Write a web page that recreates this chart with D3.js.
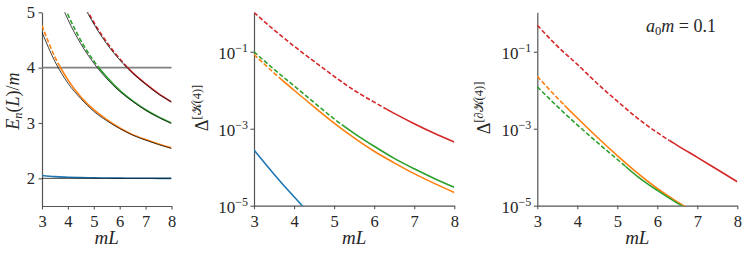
<!DOCTYPE html>
<html>
<head>
<meta charset="utf-8">
<style>
  body { margin: 0; background: #fff; }
  svg text { font-family: "Liberation Serif", "DejaVu Serif", serif; fill: #262626; }
  .it { font-style: italic; }
</style>
</head>
<body>
<div id="chart"></div>
<script src="https://cdnjs.cloudflare.com/ajax/libs/d3/7.8.5/d3.min.js"></script>
<script>

// sample points along mL
var mL = [3, 3.5, 4, 4.5, 5, 5.5, 6, 6.5, 7, 7.5, 8];
var xTicks = [3, 4, 5, 6, 7, 8];
var energyTicks = [2, 3, 4, 5];
var logTicks = [1e-1, 1e-3, 1e-5];
var threshold = 4;
var colors = ['#1f77b4', '#ff7f0e', '#2ca02c', '#d62728'];
// mL where each level falls under 4m (dashed before that)
var crossL = [3, 3.68, 5.2, 6.3];

// left panel: black thin lines
var free0 = [2.0, 2.0, 2.0, 2.0, 2.0, 2.0, 2.0, 2.0, 2.0, 2.0, 2.0];
var free1 = [4.64, 4.11, 3.72, 3.44, 3.21, 3.04, 2.90, 2.78, 2.69, 2.61, 2.54];
var free2 = [6.25, 5.46, 4.87, 4.43, 4.08, 3.80, 3.57, 3.39, 3.23, 3.10, 2.99];
var free3 = [7.53, 6.53, 5.80, 5.23, 4.79, 4.43, 4.14, 3.90, 3.70, 3.52, 3.38];
// left panel: coloured levels
var energyBlue   = [2.05, 2.03, 2.02, 2.012, 2.008, 2.005, 2.003, 2.002, 2.001, 2.0, 2.0];
var energyOrange = [4.76, 4.19, 3.78, 3.47, 3.24, 3.06, 2.91, 2.79, 2.70, 2.62, 2.55];
var energyGreen  = [6.35, 5.56, 4.96, 4.49, 4.12, 3.83, 3.59, 3.40, 3.24, 3.11, 3.00];
var energyRed    = [7.6, 6.6, 5.85, 5.27, 4.82, 4.46, 4.16, 3.91, 3.71, 3.53, 3.38];

// middle panel
var kBlue   = [2.8e-4, 6.6e-5, 1.7e-5, 4.7e-6, null, null, null, null, null, null, null];
var kOrange = [8.5e-2, 2.8e-2, 1.0e-2, 3.7e-3, 1.4e-3, 5.8e-4, 2.6e-4, 1.3e-4, 6.8e-5, 3.8e-5, 2.2e-5];
var kGreen  = [1.0e-1, 3.5e-2, 1.3e-2, 4.8e-3, 1.8e-3, 7.6e-4, 3.5e-4, 1.7e-4, 9.1e-5, 5.1e-5, 3.0e-5];
var kRed    = [1.05, 0.37, 0.14, 5.6e-2, 2.3e-2, 1.0e-2, 4.9e-3, 2.5e-3, 1.35e-3, 7.6e-4, 4.5e-4];

// right panel
var dkOrange = [2.3e-2, 6.3e-3, 1.9e-3, 6.0e-4, 2.0e-4, 7.1e-5, 2.8e-5, 1.26e-5, 6.3e-6, null, null];
var dkGreen  = [1.23e-2, 3.8e-3, 1.26e-3, 4.4e-4, 1.6e-4, 5.8e-5, 2.5e-5, 1.17e-5, 6.0e-6, null, null];
var dkRed    = [0.49, 0.14, 4.7e-2, 1.5e-2, 5.2e-3, 1.9e-3, 7.9e-4, 3.7e-4, 1.8e-4, 8.7e-5, 4.2e-5];

var svg = d3.select('#chart').append('svg')
  .attr('width', 748)
  .attr('height', 255);
var defs = svg.append('defs');

var axisColor = '#555';

function makePanel(id, left, top, w, h, y) {
  var g = svg.append('g').attr('transform', 'translate(' + left + ',' + top + ')');
  var x = d3.scaleLinear().domain([3, 8]).range([0, w]);

  var xa = g.append('g')
    .attr('transform', 'translate(0,' + h + ')')
    .call(d3.axisBottom(x).tickValues(xTicks).tickSize(3.5).tickSizeOuter(0).tickFormat(d3.format('d')));
  xa.attr('font-size', null).attr('font-family', null);
  xa.selectAll('text').attr('y', 21).attr('dy', 0).style('font-size', '16.5px');

  g.append('text')
    .attr('class', 'it')
    .attr('x', w / 2)
    .attr('y', h + 38)
    .attr('text-anchor', 'middle')
    .style('font-size', '19px')
    .text('mL');

  // plot area clip
  defs.append('clipPath').attr('id', id + '-area')
    .append('rect').attr('width', w).attr('height', h);

  return { g: g, x: x, y: y, w: w, h: h, id: id, xa: xa };
}

function styleAxes(p) {
  p.g.selectAll('.domain').attr('stroke', axisColor).attr('stroke-width', 1.2);
  p.g.selectAll('.tick line').attr('stroke', axisColor).attr('stroke-width', 1.1);
}

function drawLevel(p, values, color, cross, n) {
  var line = d3.line()
    .defined(function(d) { return d != null; })
    .x(function(d, i) { return p.x(mL[i]); })
    .y(function(d) { return p.y(d); })
    .curve(d3.curveMonotoneX);

  var cx = p.x(cross);
  var area = p.g.append('g').attr('clip-path', 'url(#' + p.id + '-area)');

  defs.append('clipPath').attr('id', p.id + '-d' + n)
    .append('rect').attr('x', -2).attr('y', -5).attr('width', cx + 2).attr('height', p.h + 10);
  defs.append('clipPath').attr('id', p.id + '-s' + n)
    .append('rect').attr('x', cx).attr('y', -5).attr('width', p.w - cx + 2).attr('height', p.h + 10);

  area.append('g').attr('clip-path', 'url(#' + p.id + '-d' + n + ')')
    .append('path').datum(values)
    .attr('d', line)
    .attr('fill', 'none')
    .attr('stroke', color)
    .attr('stroke-width', 1.6)
    .attr('stroke-dasharray', '4.5,2.2');

  area.append('g').attr('clip-path', 'url(#' + p.id + '-s' + n + ')')
    .append('path').datum(values)
    .attr('d', line)
    .attr('fill', 'none')
    .attr('stroke', color)
    .attr('stroke-width', 1.6);
}

function logAxis(p) {
  var ya = p.g.append('g')
    .call(d3.axisLeft(p.y).tickValues(logTicks).tickSize(3.5).tickSizeOuter(0).tickPadding(2.5));
  ya.attr('font-size', null).attr('font-family', null);
  ya.selectAll('.tick text').each(function(d) {
    var t = d3.select(this);
    t.text('10').attr('dy', '0.42em').style('font-size', '17px');
    t.append('tspan')
      .attr('dy', -7)
      .style('font-size', '12px')
      .text('\u2212' + Math.round(-Math.log10(d)));
  });
  ya.lower();
  p.xa.lower();
}

// ---- panel 1 : energy levels ----
var y1 = d3.scaleLinear().domain([1.5, 5]).range([193.7, 0]);
var p1 = makePanel('p1', 42, 12.3, 129.5, 193.7, y1);
var ya1 = p1.g.append('g')
  .call(d3.axisLeft(y1).tickValues(energyTicks).tickSize(3.5).tickSizeOuter(0).tickPadding(3.5).tickFormat(d3.format('d')));
ya1.attr('font-size', null).attr('font-family', null);
ya1.selectAll('text').style('font-size', '16.5px');

p1.g.append('line')
  .attr('x1', 0).attr('x2', p1.w)
  .attr('y1', y1(threshold)).attr('y2', y1(threshold))
  .attr('stroke', '#808080')
  .attr('stroke-width', 1.6);

[energyBlue, energyOrange, energyGreen, energyRed].forEach(function(v, i) {
  drawLevel(p1, v, colors[i], crossL[i], i);
});

var freeLine = d3.line()
  .x(function(d, i) { return p1.x(mL[i]); })
  .y(function(d) { return y1(d); })
  .curve(d3.curveMonotoneX);
var freeG = p1.g.append('g').attr('clip-path', 'url(#p1-area)');
[free0, free1, free2, free3].forEach(function(v) {
  freeG.append('path').datum(v)
    .attr('d', freeLine)
    .attr('fill', 'none')
    .attr('stroke', '#111')
    .attr('stroke-width', 0.8);
});
styleAxes(p1);

var lab1 = svg.append('text')
  .attr('transform', 'translate(19,101) rotate(-90)')
  .attr('text-anchor', 'middle')
  .style('font-size', '18px');
lab1.append('tspan').attr('class', 'it').text('E');
lab1.append('tspan').attr('class', 'it').attr('dy', 3).style('font-size', '12.5px').text('n');
lab1.append('tspan').attr('dy', -3).text('(');
lab1.append('tspan').attr('class', 'it').text('L');
lab1.append('tspan').text(')/');
lab1.append('tspan').attr('class', 'it').text('m');

// ---- panel 2 : Delta K(4) ----
var y2 = d3.scaleLog().domain([1e-5, 1.06]).range([193.4, 0]);
var p2 = makePanel('p2', 254, 12.3, 200.3, 193.4, y2);
[kBlue, kOrange, kGreen, kRed].forEach(function(v, i) {
  drawLevel(p2, v, colors[i], crossL[i], i);
});
logAxis(p2);
styleAxes(p2);

function deltaLabel(x, y, inner) {
  var t = svg.append('text')
    .attr('transform', 'translate(' + x + ',' + y + ') rotate(-90)')
    .attr('text-anchor', 'middle')
    .style('font-size', '18px');
  t.append('tspan').text('\u0394');
  t.append('tspan').attr('dy', -7.5).style('font-size', '12.5px').text(inner);
}
deltaLabel(208, 108, '[\uD835\uDCA6(4)]');

// ---- panel 3 : Delta dK(4) ----
var p3 = makePanel('p3', 537.3, 12.3, 200, 193.4, y2);
[null, dkOrange, dkGreen, dkRed].forEach(function(v, i) {
  if (v) drawLevel(p3, v, colors[i], crossL[i], i);
});
logAxis(p3);
styleAxes(p3);
deltaLabel(490, 108, '[\u2202\uD835\uDCA6(4)]');

var note = svg.append('text')
  .attr('x', 646)
  .attr('y', 32)
  .style('font-size', '18px');
note.append('tspan').attr('class', 'it').text('a');
note.append('tspan').attr('dy', 2.5).style('font-size', '12.5px').text('0');
note.append('tspan').attr('class', 'it').attr('dy', -2.5).text('m');
note.append('tspan').text(' = 0.1');

</script>
</body>
</html>
